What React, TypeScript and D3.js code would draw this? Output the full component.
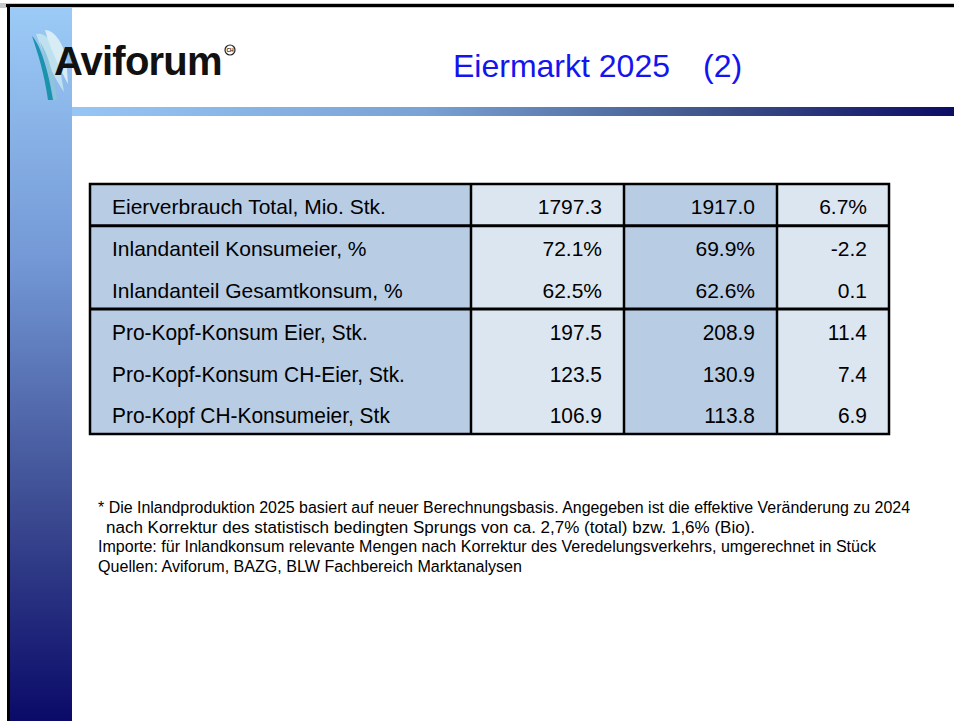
import React from "react";
import * as d3 from "d3";

const W = 954;
const H = 721;

// ---- data ----
const rowLabels = [
  "Eierverbrauch Total, Mio. Stk.",
  "Inlandanteil Konsumeier, %",
  "Inlandanteil Gesamtkonsum, %",
  "Pro-Kopf-Konsum Eier, Stk.",
  "Pro-Kopf-Konsum CH-Eier, Stk.",
  "Pro-Kopf CH-Konsumeier, Stk",
];
const values2024 = ["1797.3", "72.1%", "62.5%", "197.5", "123.5", "106.9"];
const values2025 = ["1917.0", "69.9%", "62.6%", "208.9", "130.9", "113.8"];
const changes = ["6.7%", "-2.2", "0.1", "11.4", "7.4", "6.9"];
const groupSizes = [1, 2, 3];

const footnotes = [
  "* Die Inlandproduktion 2025 basiert auf neuer Berechnungsbasis. Angegeben ist die effektive Veränderung zu 2024",
  "nach Korrektur des statistisch bedingten Sprungs von ca. 2,7% (total) bzw. 1,6% (Bio).",
  "Importe: für Inlandkonsum relevante Mengen nach Korrektur des Veredelungsverkehrs, umgerechnet in Stück",
  "Quellen: Aviforum, BAZG, BLW Fachbereich Marktanalysen",
];
const title = "Eiermarkt 2025";
const titleSuffix = "(2)";

export default function App() {
  const tableTop = 184;
  const tableBottom = 434;
  const y = d3.scaleLinear().domain([0, rowLabels.length]).range([tableTop, tableBottom]);
  const colEdges = [90, 471, 624, 777, 889];
  const colFills = ["#b8cce4", "#dce6f1", "#b8cce4", "#dce6f1"];
  const columns = [rowLabels, values2024, values2025, changes];

  const groupBounds: number[] = [0];
  groupSizes.forEach((g, i) => groupBounds.push(groupBounds[i] + g));

  const fnY = d3.scaleLinear().domain([0, 1]).range([513, 532.5]);
  const fnX = [98, 106, 98, 98];
  const fnLen = [812, 649, 778, 424];

  const font = "'Liberation Sans', Arial, sans-serif";

  return (
    <svg width={W} height={H} style={{ position: "absolute", left: 0, top: 0, display: "block" }}>
      <defs>
        <linearGradient id="vbar" x1="0" y1="0" x2="0" y2="1">
          <stop offset="0" stopColor="#9ccbf7" />
          <stop offset="0.35" stopColor="#7499d6" />
          <stop offset="0.7" stopColor="#3d4c92" />
          <stop offset="1" stopColor="#0a0a68" />
        </linearGradient>
        <linearGradient id="hbar" x1="0" y1="0" x2="1" y2="0">
          <stop offset="0" stopColor="#96c6f5" />
          <stop offset="0.4" stopColor="#7aa2d4" />
          <stop offset="0.7" stopColor="#435a8f" />
          <stop offset="1" stopColor="#0c0c64" />
        </linearGradient>
      </defs>
      <rect x={0} y={0} width={W} height={H} fill="#ffffff" />
      {/* frame */}
      <rect x={0} y={3} width={W} height={5} fill="#c8c8c8" />
      <rect x={6} y={4} width={W} height={3} fill="#000" />
      <rect x={10} y={7} width={62} height={H - 7} fill="url(#vbar)" />
      <rect x={7} y={5} width={3} height={H} fill="#000" />
      <rect x={72} y={107} width={W - 72} height={9} fill="url(#hbar)" />

      {/* logo */}
      <g>
        <path d="M36,34 C44,32 52,40 57,52 L64,92 C57,82 46,62 36,34 Z" fill="#bfe0ee" />
        <path d="M45,30 C54,30 62,42 66,56 L68,84 C62,72 51,52 45,30 Z" fill="#d7ecf4" />
        <path d="M32,36 C38,42 47,62 53,100 L48,100 C44,72 38,54 32,36 Z" fill="#1b93ad" />
        <path d="M40,42 C47,52 53,70 57,100 L54,100 C50,76 45,58 40,42 Z" fill="#8ec6d8" />
        <text x={54} y={75} fontFamily={font} fontWeight="bold" fontSize={40} fill="#111" letterSpacing={-0.8}>
          Aviforum
        </text>
        <circle cx={230} cy={50} r={5} fill="none" stroke="#222" strokeWidth={1.2} />
        <text x={230} y={52} fontFamily={font} fontSize={5} fontWeight="bold" textAnchor="middle" fill="#222">
          CH
        </text>
      </g>

      {/* title */}
      <text x={453} y={77} fontFamily={font} fontSize={32} fill="#1414f0">
        {title}
      </text>
      <text x={703} y={77} fontFamily={font} fontSize={32} fill="#1414f0">
        {titleSuffix}
      </text>

      {/* table */}
      <g>
        {columns.map((_, ci) => (
          <rect
            key={"c" + ci}
            x={colEdges[ci]}
            y={tableTop}
            width={colEdges[ci + 1] - colEdges[ci]}
            height={tableBottom - tableTop}
            fill={colFills[ci]}
          />
        ))}
        {columns.map((col, ci) =>
          col.map((t, ri) => {
            const condensed = ri >= 3;
            const tx = ci === 0 ? colEdges[0] + 22 : colEdges[ci + 1] - 22;
            const ty = (y(ri) + y(ri + 1)) / 2 + 2 + (condensed ? 8 : 7.5);
            return (
              <text
                key={ci + "-" + ri}
                transform={`translate(${tx},${ty}) scale(${condensed ? 0.93 : 1},1)`}
                textAnchor={ci === 0 ? "start" : "end"}
                fontFamily={font}
                fontSize={condensed ? 22.5 : 21}
                fill="#000"
              >
                {t}
              </text>
            );
          })
        )}
        {colEdges.slice(1, -1).map((x, i) => (
          <line key={"v" + i} x1={x} x2={x} y1={tableTop} y2={tableBottom} stroke="#000" strokeWidth={2.5} />
        ))}
        {groupBounds.slice(1, -1).map((g, i) => (
          <line key={"h" + i} x1={colEdges[0]} x2={colEdges[4]} y1={y(g)} y2={y(g)} stroke="#000" strokeWidth={3} />
        ))}
        <rect
          x={colEdges[0]}
          y={tableTop}
          width={colEdges[4] - colEdges[0]}
          height={tableBottom - tableTop}
          fill="none"
          stroke="#000"
          strokeWidth={2.5}
        />
      </g>

      {/* footnotes */}
      {footnotes.map((t, i) => (
        <text
          key={"f" + i}
          x={fnX[i]}
          y={fnY(i)}
          fontFamily={font}
          fontSize={16}
          fill="#000"
          textLength={fnLen[i]}
          lengthAdjust="spacingAndGlyphs"
        >
          {t}
        </text>
      ))}
    </svg>
  );
}
